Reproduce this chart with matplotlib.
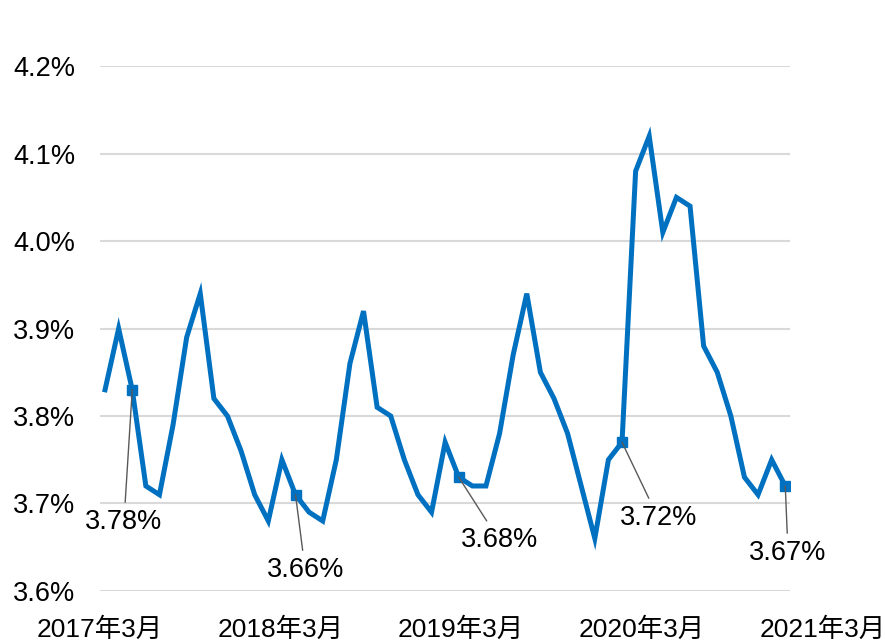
import matplotlib.pyplot as plt
from matplotlib.transforms import blended_transform_factory

plt.rcParams['font.family'] = ['Liberation Sans', 'Noto Sans CJK SC', 'DejaVu Sans']

# monthly rate, 2017-03 .. 2021-05
rate = [3.83, 3.90, 3.83, 3.72, 3.71, 3.79, 3.89, 3.94, 3.82, 3.80, 3.76, 3.71,
        3.68, 3.75, 3.71, 3.69, 3.68, 3.75, 3.86, 3.92, 3.81, 3.80, 3.75, 3.71,
        3.69, 3.77, 3.73, 3.72, 3.72, 3.78, 3.87, 3.94, 3.85, 3.82, 3.78, 3.72,
        3.66, 3.75, 3.77, 4.08, 4.12, 4.01, 4.05, 4.04, 3.88, 3.85, 3.80, 3.73,
        3.71, 3.75, 3.72]
mark_idx = [2, 14, 26, 38, 50]
mark_labels = ['3.78%', '3.66%', '3.68%', '3.72%', '3.67%']
year_labels = ['2017年3月', '2018年3月', '2019年3月', '2020年3月', '2021年3月']

blue = '#0070C0'
x = list(range(len(rate)))

fig = plt.figure(figsize=(8.85, 6.43), dpi=100)
ax = fig.add_axes([0.113, 0.081, 0.780, 0.816])

ax.plot(x, rate, color=blue, lw=3.6, solid_joinstyle='miter', zorder=3)
ax.plot(mark_idx, [rate[i] for i in mark_idx], ls='none', marker='s',
        ms=7.5, color=blue, zorder=4)

# label offsets in points (dx, dy) from the marker
offsets = [(-6, -86), (7, -45), (29, -36), (26, -45), (2, -39)]
for i, lab, (dx, dy) in zip(mark_idx, mark_labels, offsets):
    ax.annotate(lab, (i, rate[i]), xytext=(dx, dy), textcoords='offset points',
                ha='center', va='top', fontsize=19.5, color='#000000',
                arrowprops=dict(arrowstyle='-', color='#595959', lw=1,
                                shrinkA=3, shrinkB=0),
                annotation_clip=False, zorder=5)

ax.set_ylim(3.6, 4.2)
ax.set_xlim(-0.37, 50.37)
ax.set_yticks([3.6, 3.7, 3.8, 3.9, 4.0, 4.1, 4.2])
ax.set_yticklabels(['%.1f%%' % v for v in [3.6, 3.7, 3.8, 3.9, 4.0, 4.1, 4.2]],
                   fontsize=19.5)
ax.tick_params(axis='y', length=0, pad=18)
ax.set_xticks([])
ax.grid(axis='y', color='#D9D9D9', lw=1.5)
ax.set_axisbelow(True)
for s in ax.spines.values():
    s.set_visible(False)

# year labels under the axis
trans = blended_transform_factory(ax.transAxes, ax.transAxes)
for k, lab in enumerate(year_labels):
    ax.text(0.0 + k * 0.262 - 0.001, -0.074, lab, transform=trans, ha='center',
            va='center', fontsize=19, clip_on=False)

plt.savefig('out.png', dpi=100)
